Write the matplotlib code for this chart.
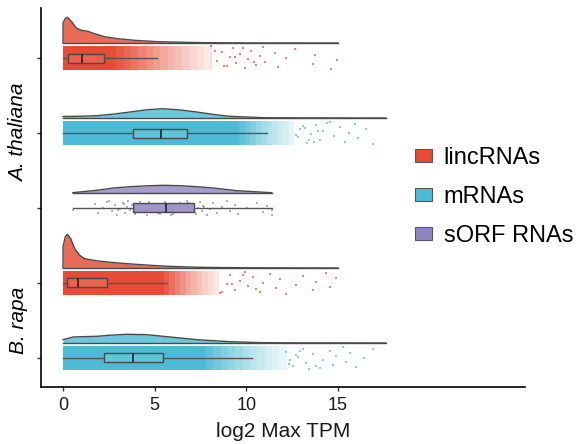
"""Raincloud plot of log2 max TPM for lincRNAs, mRNAs and sORF RNAs."""
import matplotlib
matplotlib.use("Agg")
import matplotlib.pyplot as plt
from matplotlib.patches import Patch
import numpy as np

plt.rcParams["font.family"] = ["Liberation Sans", "DejaVu Sans"]

# group order (top to bottom) and their RNA class
group_class = ["lincRNAs", "mRNAs", "sORF RNAs", "lincRNAs", "mRNAs"]
class_colors = {"lincRNAs": "#E64B35", "mRNAs": "#4DBBD5", "sORF RNAs": "#9286C2"}

# density curves (x = log2 max TPM, relative density)
ath_linc_x = [0, 0, 0.12, 0.24, 0.45, 0.73, 1.0, 1.36, 1.72, 2.27, 3.0, 3.9, 5.18, 6.6, 7.9, 10, 15]
ath_linc_d = [0, 20, 24.5, 25.7, 21.7, 15, 12.7, 11.7, 9.3, 6.3, 4.3, 2.7, 1.3, 0.7, 0.3, 0.1, 0]
ath_mrna_x = [0, 1.0, 1.84, 2.8, 3.66, 4.6, 5.47, 6.4, 7.3, 8.2, 9.1, 10.9, 13, 17.6]
ath_mrna_d = [1.5, 1.8, 2.3, 4.0, 6.0, 8.3, 9.3, 8.0, 6.0, 3.6, 1.7, 0.3, 0.1, 0]
sorf_x = [0.53, 1.84, 2.75, 3.66, 4.6, 5.47, 6.38, 7.3, 8.2, 9.5, 11.38]
sorf_d = [0.3, 2.7, 5.0, 6.3, 7.2, 7.7, 7.3, 6.3, 5.0, 2.3, 0.3]
bra_linc_x = [0, 0, 0.12, 0.24, 0.42, 0.64, 0.91, 1.18, 1.9, 3.0, 4.27, 5.72, 7.36, 10, 15]
bra_linc_d = [0, 21, 31, 33.7, 29.3, 19.3, 12.7, 9.3, 7.0, 5.0, 3.3, 1.7, 0.7, 0.2, 0]
bra_mrna_x = [0, 0.56, 1.84, 2.6, 3.47, 4.56, 5.84, 7.3, 9.1, 10.9, 13, 17.6]
bra_mrna_d = [3.3, 6.0, 6.7, 7.8, 8.7, 8.3, 6.0, 3.3, 1.3, 0.3, 0.1, 0]

# box stats: whisker low, q1, median, q3, whisker high
ath_linc_box = [0, 0.29, 1.05, 2.25, 5.1]
ath_mrna_box = [0, 3.84, 5.33, 6.75, 11.1]
sorf_box = [0.53, 3.84, 5.62, 7.16, 11.38]
bra_linc_box = [0, 0.24, 0.8, 2.42, 5.66]
bra_mrna_box = [0, 2.24, 3.84, 5.47, 10.3]

# rain: dense band edges and how densely points cover each segment
ath_linc_rain_edges = [0, 2.9, 3.3, 3.7, 4.1, 4.5, 4.9, 5.3, 5.7, 6.1, 6.5, 6.9, 7.3, 7.7, 8.1]
ath_linc_rain_cover = [1.0, 0.92, 0.85, 0.78, 0.7, 0.62, 0.55, 0.48, 0.41, 0.35, 0.29, 0.23,
                       0.18, 0.13]
ath_mrna_rain_edges = [0, 9.6, 9.9, 10.2, 10.5, 10.8, 11.1, 11.4, 11.7, 12.0, 12.3, 12.6]
ath_mrna_rain_cover = [1.0, 0.9, 0.8, 0.7, 0.6, 0.52, 0.44, 0.37, 0.3, 0.23, 0.16]
sorf_rain_edges = []
sorf_rain_cover = []
bra_linc_rain_edges = [0, 5.5, 5.8, 6.1, 6.4, 6.7, 7.0, 7.3, 7.6, 7.9, 8.2, 8.5]
bra_linc_rain_cover = [1.0, 0.9, 0.8, 0.7, 0.6, 0.5, 0.42, 0.34, 0.27, 0.2, 0.14]
bra_mrna_rain_edges = [0, 7.8, 8.2, 8.6, 9.0, 9.4, 9.8, 10.2, 10.6, 11.0, 11.4, 11.8, 12.2]
bra_mrna_rain_cover = [1.0, 0.9, 0.8, 0.71, 0.62, 0.54, 0.46, 0.39, 0.32, 0.25, 0.19, 0.13]

# sparse points outside the dense band
ath_linc_tail = [8.1, 8.38, 8.65, 8.92, 9.1, 9.28, 9.46, 9.64, 9.92, 10.1, 10.28, 10.55,
                 10.73, 10.91, 11.0, 11.55, 11.73, 12.19, 12.64, 13.64, 13.73, 14.64, 14.92,
                 8.3, 8.8, 9.4, 9.8, 10.4]
ath_mrna_tail = [12.9, 13.3, 13.55, 13.8, 14.0, 14.2, 14.55, 14.8, 15.1, 15.4, 15.6, 15.9,
                 16.1, 16.5, 16.9, 12.7, 13.1, 13.4, 13.9, 14.4, 12.8, 13.2, 13.7]
sorf_tail = [0.53, 1.74, 1.93, 2.16, 2.38, 2.65, 2.83, 2.96, 3.11, 3.25, 3.38, 3.47, 3.56,
             3.65, 3.74, 3.92, 4.01, 4.2, 4.38, 4.47, 4.56, 4.83, 5.01, 5.2, 5.38, 5.56,
             5.65, 5.83, 6.01, 6.19, 6.38, 6.56, 6.65, 6.74, 6.92, 7.1, 7.28, 7.37, 7.46,
             7.56, 7.65, 7.83, 8.01, 8.2, 8.38, 8.65, 8.92, 9.1, 9.37, 9.56, 10.01, 10.56,
             10.92, 11.1, 11.38, 11.38, 3.3, 3.9, 4.1, 4.7, 5.1, 5.5, 5.9, 6.3, 6.8, 7.2,
             7.7, 2.5, 3.0, 4.3, 5.3, 6.1]
bra_linc_tail = [8.56, 8.92, 9.1, 9.37, 9.65, 9.92, 10.1, 10.37, 10.74, 10.92, 11.28, 11.64,
                 11.83, 12.19, 12.73, 13.1, 13.64, 13.82, 14.37, 14.55, 14.91, 8.7, 9.2,
                 9.8, 10.5]
bra_mrna_tail = [12.19, 12.55, 12.83, 13.1, 13.28, 13.64, 14.0, 14.19, 14.55, 14.73, 14.91,
                 15.28, 15.46, 15.64, 16.0, 16.4, 16.9, 12.3, 12.7, 13.4, 12.4, 12.9, 13.8]

dens_x = [ath_linc_x, ath_mrna_x, sorf_x, bra_linc_x, bra_mrna_x]
dens_d = [ath_linc_d, ath_mrna_d, sorf_d, bra_linc_d, bra_mrna_d]
boxes = [ath_linc_box, ath_mrna_box, sorf_box, bra_linc_box, bra_mrna_box]
rain_edges = [ath_linc_rain_edges, ath_mrna_rain_edges, sorf_rain_edges,
              bra_linc_rain_edges, bra_mrna_rain_edges]
rain_cover = [ath_linc_rain_cover, ath_mrna_rain_cover, sorf_rain_cover,
              bra_linc_rain_cover, bra_mrna_rain_cover]
tails = [ath_linc_tail, ath_mrna_tail, sorf_tail, bra_linc_tail, bra_mrna_tail]


def lighten(color, amount):
    rgb = np.array(matplotlib.colors.to_rgb(color))
    return tuple(rgb + (1 - rgb) * amount)


fig = plt.figure(figsize=(5.78, 4.44), dpi=100)
ax = fig.add_axes([41 / 578, 57 / 444, 484 / 578, 379 / 444])

dens_scale = 1 / 75.0   # relative density -> y units
base_off = 0.2          # density baseline sits above the rain
edge = "#4a4a4a"

for i, cls in enumerate(group_class):
    pos = i + 1
    col = class_colors[cls]
    jw = 0.1 if cls == "sORF RNAs" else 0.155

    # cloud
    x = np.asarray(dens_x[i], float)
    top = pos - base_off - np.asarray(dens_d[i], float) * dens_scale
    ax.fill_between(x, pos - base_off, top, color=lighten(col, 0.18), lw=0, zorder=2)
    ax.plot(x, top, color=edge, lw=1.0, zorder=3)
    ax.plot([x[0], x[-1]], [pos - base_off] * 2, color=edge, lw=1.0, zorder=3)

    # rain: each segment runs to the band end, the next one paints over the rest
    e = rain_edges[i]
    for k, cov in enumerate(rain_cover[i]):
        ax.barh(pos, e[-1] - e[k], left=e[k], height=2 * jw,
                color=lighten(col, 1 - cov), lw=0, zorder=2)
    t = np.asarray(tails[i], float)
    jit = ((np.arange(len(t)) * 0.618034 + 0.31 * i) % 1.0) * 2 - 1
    ax.scatter(t, pos + jit * jw, s=2.2, marker="s", color=col, alpha=0.7,
               lw=0, zorder=2)

    # box
    b = boxes[i]
    stats = [dict(whislo=b[0], q1=b[1], med=b[2], q3=b[3], whishi=b[4], fliers=[])]
    ax.bxp(stats, positions=[pos], widths=0.12, orientation="horizontal",
           patch_artist=True, showfliers=False, showcaps=False,
           boxprops=dict(facecolor=lighten(col, 0.12), edgecolor=edge, lw=1.0),
           medianprops=dict(color="#222222", lw=1.2),
           whiskerprops=dict(color="#555555", lw=1.0), manage_ticks=False,
           zorder=4)

ax.set_xlim(-1.2, 25.2)
ax.set_ylim(5.387, 0.333)
ax.set_xticks([0, 5, 10, 15])
ax.set_yticks([1, 2, 3, 4, 5])
ax.set_yticklabels([])
ax.tick_params(axis="both", length=3, width=1, color="#333333", labelsize=13,
               pad=4, labelcolor="#1a1a1a")
for side in ("top", "right"):
    ax.spines[side].set_visible(False)
for side in ("left", "bottom"):
    ax.spines[side].set_linewidth(1.2)
ax.set_xlabel("log2 Max TPM", fontsize=15, labelpad=6, color="#1a1a1a")

ytr = ax.get_yaxis_transform()
ax.text(-0.0455, 2.0, "A. thaliana", transform=ytr, rotation=90, fontsize=15,
        style="italic", ha="center", va="center")
ax.text(-0.0455, 4.5, "B. rapa", transform=ytr, rotation=90, fontsize=15,
        style="italic", ha="center", va="center")

handles = [Patch(facecolor=class_colors[c], edgecolor="#555555", lw=0.8)
           for c in class_colors]
fig.legend(handles, list(class_colors), loc="center left",
           bbox_to_anchor=(415 / 578, 1 - 197 / 444), frameon=False, fontsize=17,
           handlelength=0.72, handleheight=0.47, handletextpad=0.5,
           labelspacing=0.72, borderaxespad=0, borderpad=0)

fig.savefig("out.png", dpi=100)
